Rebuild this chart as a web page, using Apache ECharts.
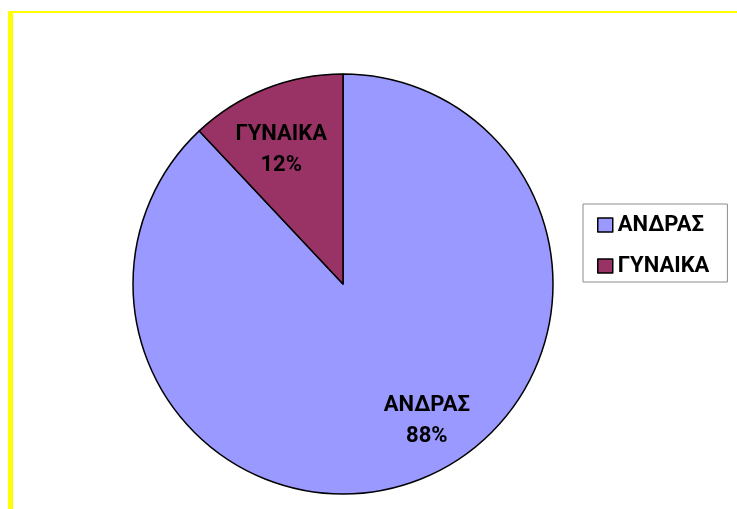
<!DOCTYPE html>
<html>
<head>
<meta charset="utf-8">
<script src="https://cdn.jsdelivr.net/npm/echarts@6/dist/echarts.min.js"></script>
<style>
html,body{margin:0;padding:0;background:#fff;}
#chart{width:737px;height:509px;}
</style>
</head>
<body>
<div id="chart"></div>
<script>
const categories = ['ΑΝΔΡΑΣ', 'ΓΥΝΑΙΚΑ'];
const values = [88, 12];
const colors = ['#9999FF', '#993366'];

const labelOffsets = [[44, 37], [-22, -34]];

const chart = echarts.init(document.getElementById('chart'), null, {renderer: 'canvas'});
const font = 'Roboto, "Open Sans", sans-serif';

chart.setOption({
  backgroundColor: '#ffffff',
  animation: false,
  graphic: [
    {type: 'rect', shape: {x: 8, y: 11, width: 5, height: 498}, style: {fill: '#FFFF00'}, silent: true},
    {type: 'rect', shape: {x: 8, y: 11, width: 729, height: 2}, style: {fill: '#FFFF00'}, silent: true}
  ],
  legend: {
    orient: 'vertical',
    left: 583,
    top: 204,
    data: categories,
    itemWidth: 15,
    itemHeight: 14,
    itemGap: 19,
    padding: [10, 18, 5, 14],
    borderColor: '#8c8c8c',
    borderWidth: 1,
    icon: 'rect',
    itemStyle: {borderColor: '#000', borderWidth: 1.5},
    textStyle: {fontFamily: font, fontWeight: 'bold', fontSize: 22, lineHeight: 22, color: '#000'},
    selectedMode: false
  },
  series: [{
    type: 'pie',
    center: [343, 284],
    radius: [0, 210],
    startAngle: 90,
    clockwise: true,
    silent: true,
    data: categories.map((c, i) => ({name: c, value: values[i], itemStyle: {color: colors[i]}})),
    itemStyle: {borderColor: '#000', borderWidth: 1.5},
    label: {
      show: true,
      position: 'inside',
      formatter: p => p.name + '\n' + Math.round(p.percent) + '%',
      fontFamily: font,
      fontWeight: 'bold',
      fontSize: 22,
      lineHeight: 31,
      color: '#000',
      align: 'center'
    },
    labelLayout: function (params) {
      const o = labelOffsets[params.dataIndex];
      return {dx: o[0], dy: o[1]};
    },
    emphasis: {disabled: true}
  }]
});
</script>
</body>
</html>
